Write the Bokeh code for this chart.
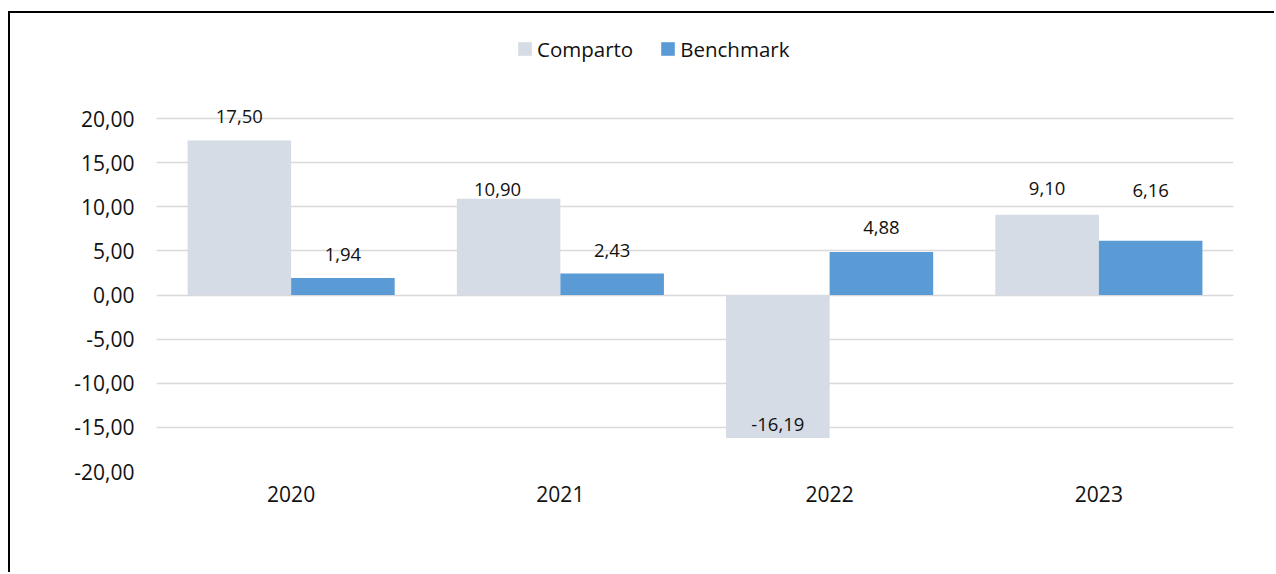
from bokeh.plotting import figure
from bokeh.models import (ColumnDataSource, Legend, LegendItem, CustomJSTickFormatter,
                          FixedTicker, Range1d, FactorRange)
from bokeh.transform import dodge
from bokeh.core.properties import value
from bokeh.embed import file_html
from bokeh.resources import INLINE

# ---- data ----
years = ["2020", "2021", "2022", "2023"]
comparto = [17.50, 10.90, -16.19, 9.10]
benchmark = [1.94, 2.43, 4.88, 6.16]
series_names = ["Comparto", "Benchmark"]
y_ticks = [-20, -15, -10, -5, 0, 5, 10, 15, 20]

# ---- styles ----
C_COMP = "#D6DCE5"
C_BENCH = "#5B9BD5"
FONT = "Open Sans"
BAR_W = 1 / 2.6
# label pixel offsets (style only)
comp_dx = [0, -11, 0, 0]
comp_dy = [-24, -9, -13, -26]
bench_dx = [0, 0, 0, 0]
bench_dy = [-23, -23, -24, -50]


def fmt(v):
    return f"{v:.2f}".replace(".", ",")


src = ColumnDataSource(dict(
    year=years,
    comparto=comparto,
    benchmark=benchmark,
    comp_lbl=[fmt(v) for v in comparto],
    bench_lbl=[fmt(v) for v in benchmark],
    comp_dx=comp_dx, comp_dy=comp_dy,
    bench_dx=bench_dx, bench_dy=bench_dy,
))

# frame: 451 px tall, 40 units = 353 px -> top extends to hold legend
px_per_unit = 353 / 40
y_top = 20 + (451 - 353) / px_per_unit

p = figure(
    width=1266, height=561,
    x_range=FactorRange(*years, range_padding=0),
    y_range=Range1d(-20, y_top),
    output_backend="svg", toolbar_location=None,
    min_border_left=146, min_border_right=43,
    min_border_top=7, min_border_bottom=103,
)
p.margin = (11, 0, 0, 8)
p.styles = {"border-left": "2px solid #000000", "border-top": "2px solid #000000"}
p.outline_line_color = None
p.background_fill_color = "white"
p.border_fill_color = "white"

off = BAR_W / 2
r1 = p.vbar(x=dodge("year", -off, range=p.x_range), top="comparto", bottom=0,
            width=BAR_W, source=src, fill_color=C_COMP, line_color=None)
r2 = p.vbar(x=dodge("year", off, range=p.x_range), top="benchmark", bottom=0,
            width=BAR_W, source=src, fill_color=C_BENCH, line_color=None)

p.text(x=dodge("year", -off, range=p.x_range), y="comparto", text="comp_lbl",
       x_offset="comp_dx", y_offset="comp_dy", source=src,
       text_font=value(FONT), text_font_size="18.5px", text_color="#111111",
       text_align="center", text_baseline="middle")
p.text(x=dodge("year", off, range=p.x_range), y="benchmark", text="bench_lbl",
       x_offset="bench_dx", y_offset="bench_dy", source=src,
       text_font=value(FONT), text_font_size="18.5px", text_color="#111111",
       text_align="center", text_baseline="middle")

# axes
p.yaxis.ticker = FixedTicker(ticks=y_ticks)
p.yaxis.formatter = CustomJSTickFormatter(code="return tick.toFixed(2).replace('.', ',');")
for ax in (p.xaxis[0], p.yaxis[0]):
    ax.axis_line_color = None
    ax.major_tick_line_color = None
    ax.minor_tick_line_color = None
    ax.major_tick_out = 0
    ax.major_tick_in = 0
    ax.major_label_text_font = FONT
    ax.major_label_text_font_size = "21px"
    ax.major_label_text_color = "#111111"
p.yaxis.major_label_standoff = 22
p.xaxis.major_label_standoff = 14

p.xgrid.grid_line_color = None
p.ygrid.grid_line_color = "#D9D9D9"
p.ygrid.grid_line_width = 1.5

legend = Legend(
    items=[LegendItem(label=series_names[0], renderers=[r1]),
           LegendItem(label=series_names[1], renderers=[r2])],
    orientation="horizontal", location=(360, 408.5),
    padding=0, margin=0, spacing=26, label_standoff=4,
    glyph_width=17, glyph_height=17,
    label_text_font=FONT, label_text_font_size="20.5px", label_text_color="#111111",
    border_line_color=None, background_fill_alpha=0,
)
p.add_layout(legend, "center")

open("out.html", "w").write(file_html(p, INLINE))
